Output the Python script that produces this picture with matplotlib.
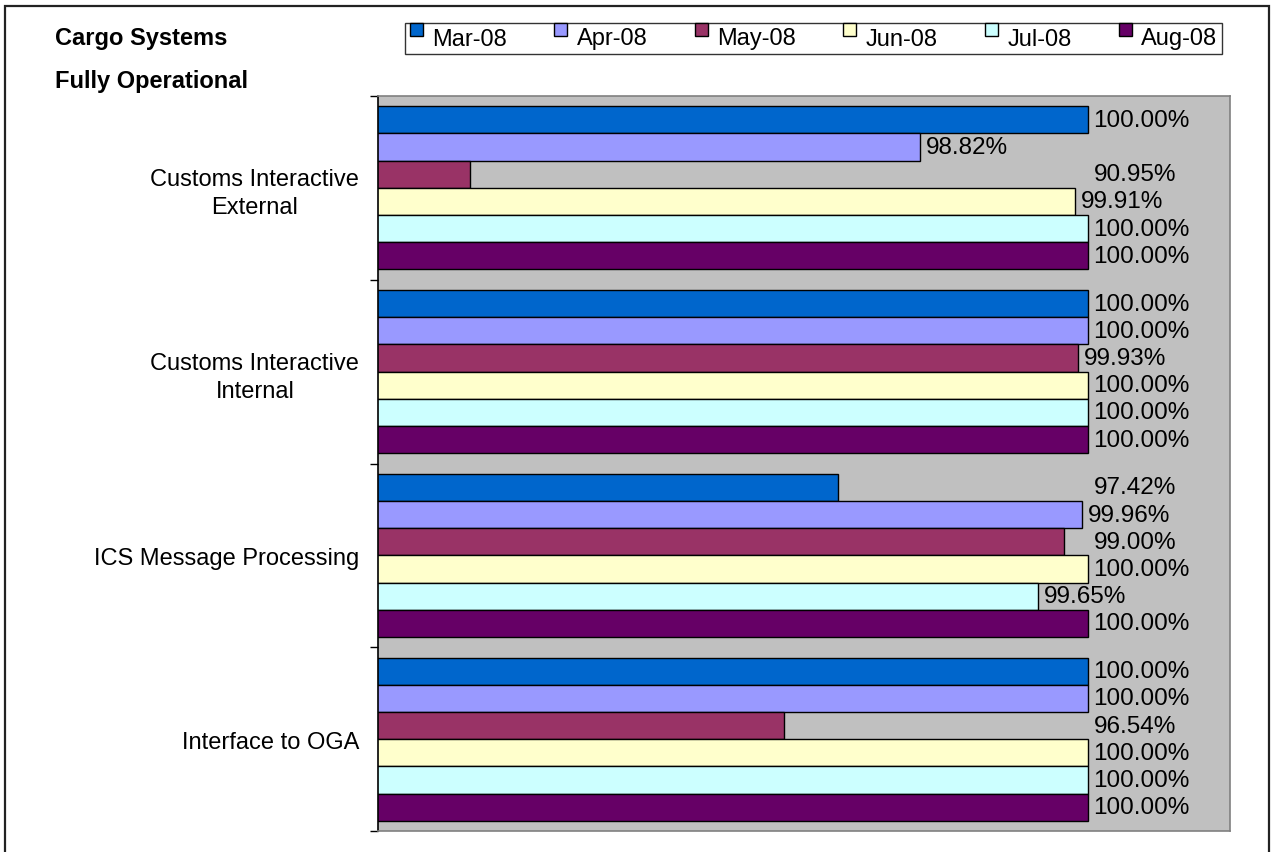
import matplotlib
matplotlib.use("Agg")
import matplotlib.pyplot as plt
from matplotlib.patches import Rectangle
from matplotlib.container import BarContainer
from matplotlib.legend_handler import HandlerPatch, update_from_first_child

plt.rcParams["font.family"] = ["Liberation Sans", "DejaVu Sans"]

# data
categories = ["Customs Interactive\nExternal", "Customs Interactive\nInternal",
              "ICS Message Processing", "Interface to OGA"]
months = ["Mar-08", "Apr-08", "May-08", "Jun-08", "Jul-08", "Aug-08"]
colors = ["#0066CC", "#9999FF", "#993366", "#FFFFCC", "#CCFFFF", "#660066"]

# bar lengths as drawn (%)
bars_ext = [100.00, 98.82, 95.65, 99.91, 100.00, 100.00]
bars_int = [100.00, 100.00, 99.93, 100.00, 100.00, 100.00]
bars_ics = [98.24, 99.96, 99.83, 100.00, 99.65, 100.00]
bars_oga = [100.00, 100.00, 97.86, 100.00, 100.00, 100.00]

# data labels as printed (%)
labels_ext = [100.00, 98.82, 90.95, 99.91, 100.00, 100.00]
labels_int = [100.00, 100.00, 99.93, 100.00, 100.00, 100.00]
labels_ics = [97.42, 99.96, 99.00, 100.00, 99.65, 100.00]
labels_oga = [100.00, 100.00, 96.54, 100.00, 100.00, 100.00]

bar_rows = [bars_ext, bars_int, bars_ics, bars_oga]
label_rows = [labels_ext, labels_int, labels_ics, labels_oga]

FS = 17
W, H = 1274, 853
fig = plt.figure(figsize=(W / 100, H / 100), dpi=100)
ax = fig.add_axes([378 / W, 1 - 832 / H, (1230 - 378) / W, (832 - 97) / H])
ax.set_facecolor("#C0C0C0")

h = 0.148
for j, (month, color) in enumerate(zip(months, colors)):
    ys = [i + (j - 2.5) * h for i in range(len(categories))]
    vals = [row[j] for row in bar_rows]
    ax.barh(ys, vals, height=h, color=color, edgecolor="black", linewidth=1.0,
            label=month)
    for y, v, lab in zip(ys, vals, [row[j] for row in label_rows]):
        # labels that were typed over sit in the 100% column
        x = v if abs(v - lab) < 0.05 else 100.0
        ax.annotate(f"{lab:.2f}%", (x, y), xytext=(4, 0),
                    textcoords="offset points", va="center", ha="left",
                    fontsize=17.5, annotation_clip=False)

ax.set_xlim(95, 101)
ax.set_ylim(len(categories) - 0.5, -0.5)
ax.set_xticks([])
ax.set_yticks(range(len(categories)))
ax.set_yticklabels(categories, fontsize=FS, multialignment="center",
                   linespacing=1.35)
ax.set_yticks([k - 0.5 for k in range(len(categories) + 1)], minor=True)
ax.tick_params(axis="y", which="major", length=0, pad=13.5)
ax.tick_params(axis="y", which="minor", length=6, width=1, direction="out")
for side in ["top", "right", "bottom"]:
    ax.spines[side].set_color("#808080")
    ax.spines[side].set_linewidth(1.2)
ax.spines["left"].set_color("black")
ax.spines["left"].set_linewidth(1.2)


def raised_square(legend, orig_handle, xdescent, ydescent, width, height, fontsize):
    # excel draws the legend keys raised, like a superscript
    s = 9.5
    return Rectangle((-xdescent, -ydescent + 5.8), s, s)


handles, labs = ax.get_legend_handles_labels()
leg = fig.legend(handles, labs, loc="center", ncol=6,
                 bbox_to_anchor=(813.5 / W, 1 - 39.5 / H), fontsize=17,
                 frameon=True, fancybox=False, handlelength=0.6, handleheight=0.7,
                 handletextpad=0.35, columnspacing=2.0, borderpad=0.2,
                 borderaxespad=0,
                 handler_map={BarContainer: HandlerPatch(patch_func=raised_square,
                                                         update_func=update_from_first_child)})
leg.get_frame().set_edgecolor("black")
leg.get_frame().set_linewidth(1.0)

fig.text(55 / W, 1 - 45 / H, "Cargo Systems", fontsize=FS, fontweight="bold",
         va="baseline", ha="left")
fig.text(55 / W, 1 - 88 / H, "Fully Operational", fontsize=FS, fontweight="bold",
         va="baseline", ha="left")

# outer chart border
fig.patches.append(Rectangle((5 / W, -0.05), (1269 - 5) / W, 1.05 - 7 / H,
                             transform=fig.transFigure, fill=False,
                             edgecolor="#222222", linewidth=1.6))

fig.savefig("out.png", dpi=100)
